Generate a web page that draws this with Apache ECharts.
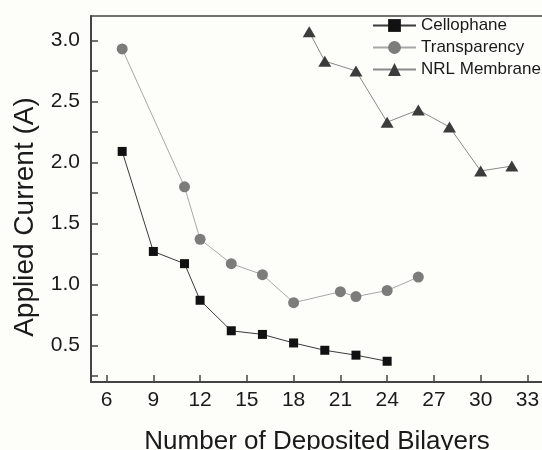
<!DOCTYPE html>
<html>
<head>
<meta charset="utf-8">
<script src="https://cdn.jsdelivr.net/npm/echarts@6/dist/echarts.min.js"></script>
<style>
  html, body { margin: 0; padding: 0; background: #fdfdfa; }
  #chart { width: 542px; height: 450px; }
</style>
</head>
<body>
<div id="chart"></div>
<script>
// Applied current vs. number of deposited bilayers for three substrates
const cellophaneX = [7, 9, 11, 12, 14, 16, 18, 20, 22, 24];
const cellophaneY = [2.09, 1.27, 1.17, 0.87, 0.62, 0.59, 0.52, 0.46, 0.42, 0.37];

const transparencyX = [7, 11, 12, 14, 16, 18, 21, 22, 24, 26];
const transparencyY = [2.93, 1.80, 1.37, 1.17, 1.08, 0.85, 0.94, 0.90, 0.95, 1.06];

const nrlX = [19, 20, 22, 24, 26, 28, 30, 32];
const nrlY = [3.07, 2.83, 2.75, 2.33, 2.43, 2.29, 1.93, 1.97];

const xTicks = [6, 9, 12, 15, 18, 21, 24, 27, 30, 33];
const yLabels = [0.5, 1.0, 1.5, 2.0, 2.5, 3.0];
const yTicks = [0.25, 0.5, 0.75, 1.0, 1.25, 1.5, 1.75, 2.0, 2.25, 2.5, 2.75, 3.0];

const xTitle = 'Number of Deposited Bilayers';
const yTitle = 'Applied Current (A)';

const pairs = (xs, ys) => xs.map((x, i) => [x, ys[i]]);

const FONT = 'Liberation Sans, Arial, sans-serif';
const AXIS_COLOR = '#444';
const TEXT_COLOR = '#1a1a1a';

const chart = echarts.init(document.getElementById('chart'), null, { renderer: 'canvas' });

chart.setOption({
  backgroundColor: '#fdfdfa',
  animation: false,
  grid: { left: 91, right: -1, top: 16, bottom: 68, containLabel: false, outerBoundsMode: 'none' },
  legend: {
    orient: 'vertical',
    left: 367,
    top: 12,
    itemWidth: 43,
    itemHeight: 16,
    itemGap: 5,
    textStyle: { fontFamily: FONT, fontSize: 17, color: TEXT_COLOR },
    data: ['Cellophane', 'Transparency', 'NRL Membrane']
  },
  // rotated y-axis title, placed by hand so it sits centred on the tick range
  graphic: [{
    type: 'text',
    x: 25,
    y: 217,
    rotation: Math.PI / 2,
    style: {
      text: yTitle,
      font: '28px ' + FONT,
      fill: TEXT_COLOR,
      align: 'center',
      verticalAlign: 'middle'
    }
  }],
  xAxis: [
    {
      type: 'value',
      min: 5,
      max: 34,
      position: 'bottom',
      splitLine: { show: false },
      axisLine: { lineStyle: { color: AXIS_COLOR, width: 2 } },
      axisTick: { inside: true, length: 7, customValues: xTicks, lineStyle: { color: AXIS_COLOR, width: 1.5 } },
      axisLabel: { customValues: xTicks, fontFamily: FONT, fontSize: 21, color: TEXT_COLOR, margin: 8 },
      name: xTitle,
      nameLocation: 'middle',
      nameGap: 47,
      nameTextStyle: { fontFamily: FONT, fontSize: 26, color: TEXT_COLOR }
    },
    {
      type: 'value',
      min: 5,
      max: 34,
      position: 'top',
      splitLine: { show: false },
      axisLine: { lineStyle: { color: AXIS_COLOR, width: 1.5 } },
      axisTick: { show: false },
      axisLabel: { show: false }
    }
  ],
  yAxis: {
    type: 'value',
    min: 0.2,
    max: 3.2,
    splitLine: { show: false },
    axisLine: { show: true, lineStyle: { color: AXIS_COLOR, width: 2 } },
    axisTick: {
      show: true,
      inside: true,
      length: 7,
      customValues: yTicks,
      lineStyle: { color: AXIS_COLOR, width: 1.5 }
    },
    axisLabel: {
      customValues: yLabels,
      formatter: v => v.toFixed(1),
      fontFamily: FONT,
      fontSize: 21,
      color: TEXT_COLOR,
      margin: 11
    }
  },
  series: [
    {
      name: 'Cellophane',
      type: 'line',
      data: pairs(cellophaneX, cellophaneY),
      symbol: 'rect',
      symbolSize: 9,
      itemStyle: { color: '#111' },
      lineStyle: { color: '#3a3a3a', width: 1 },
      z: 4
    },
    {
      name: 'Transparency',
      type: 'line',
      data: pairs(transparencyX, transparencyY),
      symbol: 'circle',
      symbolSize: 11,
      itemStyle: { color: '#7c7c7a' },
      lineStyle: { color: '#a8a8a8', width: 1 },
      z: 3
    },
    {
      name: 'NRL Membrane',
      type: 'line',
      data: pairs(nrlX, nrlY),
      symbol: 'triangle',
      symbolSize: [13, 11],
      itemStyle: { color: '#3c3c3c' },
      lineStyle: { color: '#8a8a8a', width: 1 },
      z: 2
    }
  ]
});
</script>
</body>
</html>
